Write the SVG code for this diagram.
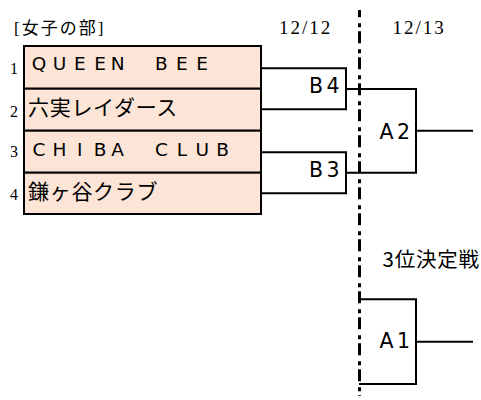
<svg xmlns="http://www.w3.org/2000/svg" width="481" height="400" viewBox="0 0 481 400">
<style>
.serif{font-family:"Liberation Serif","Noto Sans CJK JP",serif;fill:#000}
.jp{font-family:"Noto Sans CJK JP",sans-serif;fill:#000}
.lat{font-family:"DejaVu Sans","Noto Sans CJK JP",sans-serif;fill:#000}
.ln{stroke:#000;stroke-width:2;fill:none}
.cell{fill:#FCE4D6;stroke:#000;stroke-width:2}
</style>
<rect width="481" height="400" fill="#fff"/>
<g id="header">
<text class="serif" x="14" y="34" font-size="17" letter-spacing="2">[女子の部]</text>
<text class="serif" x="279" y="34" font-size="19" letter-spacing="2">12/12</text>
<text class="serif" x="392.5" y="34" font-size="19" letter-spacing="2">12/13</text>
</g>
<g id="team1">
<rect class="cell" x="24" y="46" width="237" height="42.7"/>
<text class="serif" x="18" y="74" font-size="16" text-anchor="end">1</text>
<text class="lat" font-size="18.5" y="70" text-anchor="middle"><tspan x="39 59.4 79.8 100.2 120.6">QUEEN</tspan> <tspan x="161.4 181.8 202.2">BEE</tspan></text>
</g>
<g id="team2">
<rect class="cell" x="24" y="88.7" width="237" height="42"/>
<text class="serif" x="18" y="116.5" font-size="16" text-anchor="end">2</text>
<text class="jp" x="28" y="115" font-size="21" letter-spacing="0.7">六実レイダース</text>
</g>
<g id="team3">
<rect class="cell" x="24" y="130.7" width="237" height="42"/>
<text class="serif" x="18" y="157" font-size="16" text-anchor="end">3</text>
<text class="lat" font-size="18.5" y="156" text-anchor="middle"><tspan x="39 59.4 79.8 100.2 120.6">CHIBA</tspan> <tspan x="161.4 181.8 202.2 222.6">CLUB</tspan></text>
</g>
<g id="team4">
<rect class="cell" x="24" y="172.7" width="237" height="41.3"/>
<text class="serif" x="18" y="200" font-size="16" text-anchor="end">4</text>
<text class="jp" x="28" y="199" font-size="21" letter-spacing="0.7">鎌ヶ谷クラブ</text>
</g>
<g id="connectors">
<line x1="359.5" y1="10" x2="359.5" y2="396" stroke="#000" stroke-width="3" stroke-dasharray="12 6 4 4" stroke-dashoffset="4.7"/>
<polyline class="ln" points="261,68.3 346,68.3 346,109.3 261,109.3"/>
<polyline class="ln" points="261,152.3 346,152.3 346,193.3 261,193.3"/>
<polyline class="ln" points="346,89 416,89 416,172.7 346,172.7"/>
<line class="ln" x1="416" y1="130.7" x2="473" y2="130.7"/>
<polyline class="ln" points="359,299.3 416,299.3 416,384 359,384"/>
<line class="ln" x1="416" y1="341.7" x2="473" y2="341.7"/>
</g>
<g id="B4"><text class="lat" font-size="20.5" y="92.5" text-anchor="middle" x="316 333">B4</text></g>
<g id="B3"><text class="lat" font-size="20.5" y="176.5" text-anchor="middle" x="316 333">B3</text></g>
<g id="A2"><text class="lat" font-size="20.5" y="139" text-anchor="middle" x="386.5 403.5">A2</text></g>
<g id="A1"><text class="lat" font-size="20.5" y="347.5" text-anchor="middle" x="386.5 403.5">A1</text></g>
<g id="third"><text class="jp" x="382.5" y="267" font-size="20.5" letter-spacing="0.8">3位決定戦</text></g>
</svg>
